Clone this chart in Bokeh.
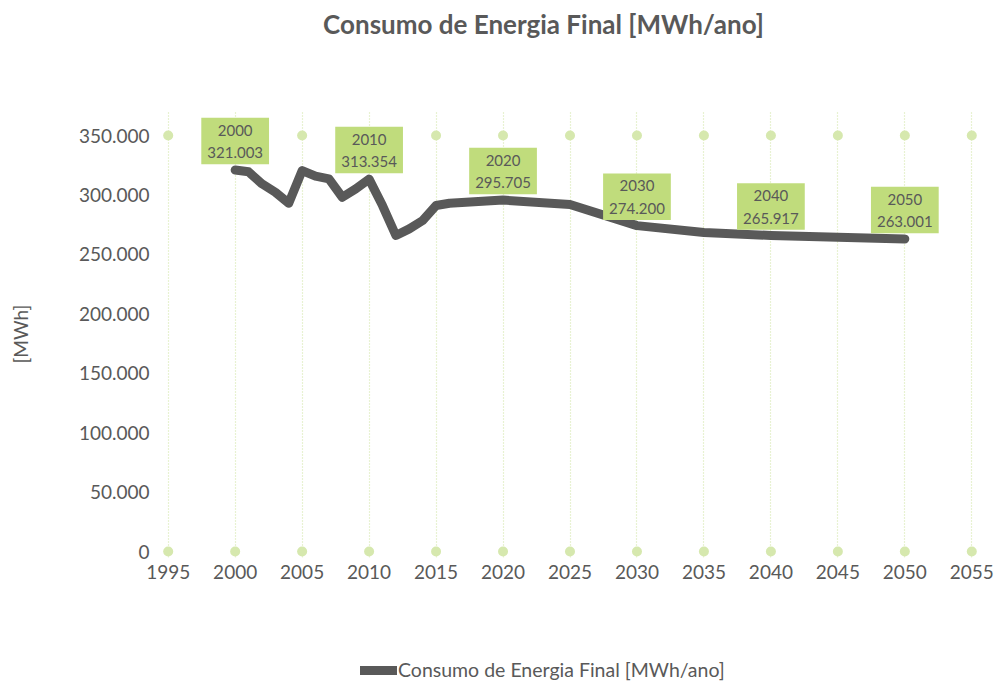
from bokeh.plotting import figure
from bokeh.layouts import column
from bokeh.models import (Range1d, FixedTicker, Label, Legend, LegendItem)
from bokeh.embed import file_html
from bokeh.resources import INLINE

# ---- data ----
years = [2000, 2001, 2002, 2003, 2004, 2005, 2006, 2007, 2008, 2009, 2010,
         2011, 2012, 2013, 2014, 2015, 2016, 2020, 2025, 2030, 2035, 2040,
         2045, 2050]
consumo = [321003, 319500, 309400, 302300, 293000, 320500, 315800, 313600,
           298100, 305100, 313354, 291100, 265900, 271500, 278500, 291100,
           293000, 295705, 292000, 274200, 268500, 265917, 264500, 263001]

label_years = [2000, 2010, 2020, 2030, 2040, 2050]
label_values = [321003, 313354, 295705, 274200, 265917, 263001]
label_texts = ["321.003", "313.354", "295.705", "274.200", "265.917", "263.001"]

x_ticks = [1995, 2000, 2005, 2010, 2015, 2020, 2025, 2030, 2035, 2040,
           2045, 2050, 2055]
y_ticks = [0, 50000, 100000, 150000, 200000, 250000, 300000, 350000]
y_tick_labels = ["0", "50.000", "100.000", "150.000", "200.000", "250.000",
                 "300.000", "350.000"]

title_text = "Consumo de Energia Final [MWh/ano]"
series_name = "Consumo de Energia Final [MWh/ano]"
y_title = "[MWh]"

# ---- style ----
FONT = "Lato"
TXT = "#595959"
LINE = "#595959"
BOX = "#C0DC7C"
DOT = "#D6E8AE"
GRID = "#D2E5A6"
W = 995


def blank(height):
    f = figure(width=W, height=height, x_range=Range1d(0, 1),
               y_range=Range1d(0, 1), x_axis_location=None,
               y_axis_location=None, min_border=0,
               output_backend="svg", toolbar_location=None)
    f.outline_line_color = None
    f.grid.visible = False
    return f


# ---- title strip ----
ptitle = blank(50)
ptitle.add_layout(Label(x=382, y=27, x_units="screen", y_units="screen",
                        text=title_text, text_align="center",
                        text_baseline="middle", text_font=FONT,
                        text_font_style="bold", text_font_size="26px",
                        text_color=TXT))

# ---- main chart ----
p = figure(frame_width=817, frame_height=447,
           min_border_left=161, min_border_right=17,
           min_border_top=60, min_border_bottom=40,
           x_range=Range1d(1994.5, 2055.5), y_range=Range1d(-5000, 371077),
           output_backend="svg", toolbar_location=None)
p.outline_line_color = None
p.background_fill_color = "white"
p.border_fill_color = "white"

p.ygrid.grid_line_color = None
p.xgrid.ticker = FixedTicker(ticks=x_ticks)
p.xgrid.grid_line_color = GRID
p.xgrid.grid_line_dash = "1 2"
p.xgrid.grid_line_width = 1.2
p.xgrid.bounds = (0, 350000)

for ax in (p.xaxis, p.yaxis):
    ax.axis_line_color = None
    ax.major_tick_line_color = None
    ax.minor_tick_line_color = None
    ax.major_tick_out = 0
    ax.major_tick_in = 0
    ax.minor_tick_out = 0
    ax.minor_tick_in = 0
    ax.major_label_text_color = TXT
    ax.major_label_text_font = FONT
    ax.major_label_text_font_size = "19px"
p.xaxis.ticker = FixedTicker(ticks=x_ticks)
p.yaxis.ticker = FixedTicker(ticks=y_ticks)
p.yaxis.major_label_overrides = {t: l for t, l in zip(y_ticks, y_tick_labels)}
p.xaxis.major_label_standoff = 7
p.yaxis.major_label_standoff = 12
p.yaxis.axis_label = y_title
p.yaxis.axis_label_text_font = FONT
p.yaxis.axis_label_text_font_style = "normal"
p.yaxis.axis_label_text_font_size = "19px"
p.yaxis.axis_label_text_color = TXT
p.yaxis.axis_label_standoff = 44

dot_x = x_ticks + x_ticks
dot_y = [y_ticks[0]] * len(x_ticks) + [y_ticks[-1]] * len(x_ticks)
p.scatter(dot_x, dot_y, size=10, color=DOT, line_color=None)

p.line(years, consumo, line_color=LINE, line_width=9,
       line_join="round", line_cap="round")

for yr, v, t in zip(label_years, label_values, label_texts):
    p.add_layout(Label(x=yr, y=v, y_offset=29, text=f"{yr}\n{t}",
                       text_align="center", text_baseline="middle",
                       text_font=FONT, text_font_size="15px",
                       text_color=TXT, text_line_height=1.25,
                       background_fill_color=BOX, padding=(6, 3)))

# ---- legend strip ----
pleg = blank(85)
# same series, outside this strip's ranges, only used as the legend key
rleg = pleg.line(years, consumo, line_color=LINE, line_width=9,
                 line_cap="round")
legend = Legend(items=[LegendItem(label=series_name, renderers=[rleg])],
                location=(199, 1), padding=0, margin=0,
                border_line_color=None, background_fill_alpha=0,
                glyph_width=37, glyph_height=20, label_standoff=1,
                label_text_font=FONT, label_text_font_size="19.5px",
                label_text_color=TXT)
pleg.add_layout(legend, "center")

layout = column(ptitle, p, pleg, spacing=0)
open("out.html", "w").write(file_html(layout, INLINE))
